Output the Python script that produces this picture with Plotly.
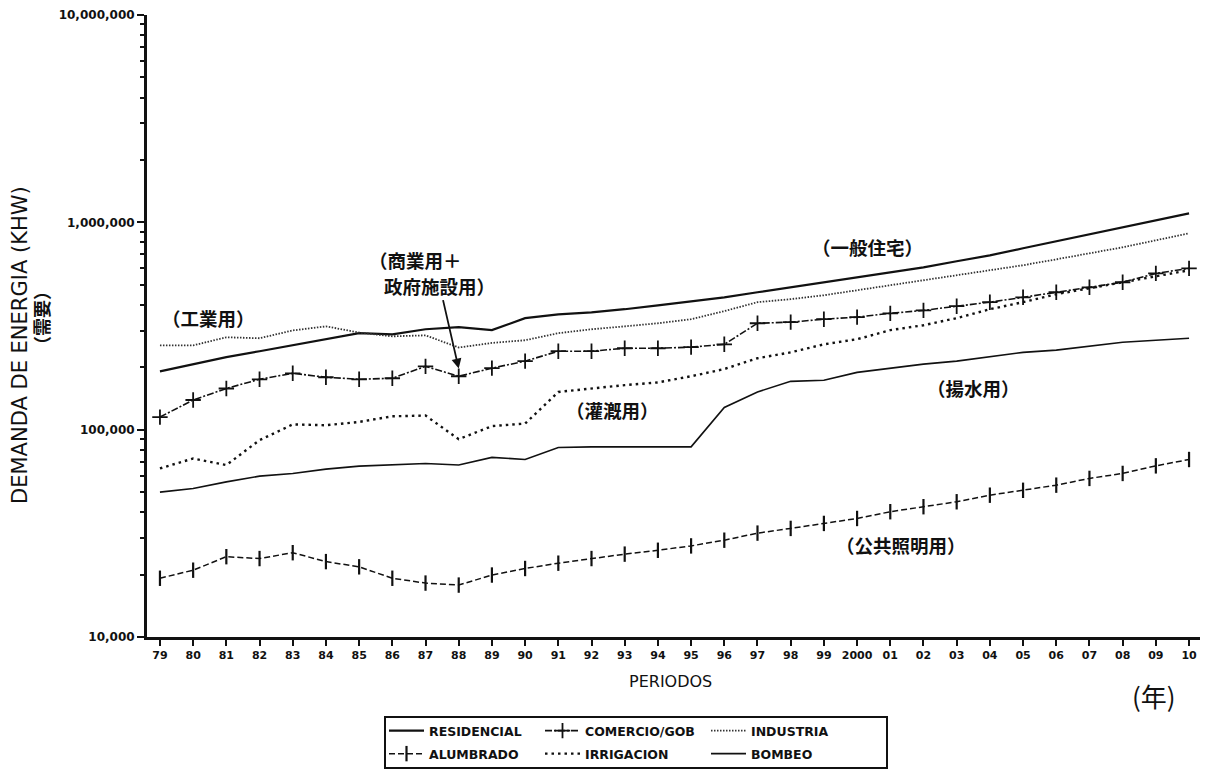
import math
import plotly.graph_objects as go

years = ["79","80","81","82","83","84","85","86","87","88","89","90","91","92","93","94",
         "95","96","97","98","99","2000","01","02","03","04","05","06","07","08","09","10"]

residencial = [191000,207000,224000,239000,255000,273000,292000,288000,305000,312000,302000,345000,
               360000,368000,381000,398000,416000,435000,460000,486000,514000,543000,574000,607000,
               649000,693000,750000,810000,875000,946000,1023000,1105000]
comercio = [115000,139000,158000,175000,187000,179000,175000,177000,202000,181000,198000,214000,
            239000,239000,247000,247000,250000,258000,326000,330000,341000,349000,364000,376000,
            394000,412000,435000,460000,486000,514000,567000,600000]
industria = [255000,255000,279000,276000,301000,315000,294000,282000,285000,249000,262000,270000,
             292000,305000,315000,326000,341000,373000,412000,426000,445000,470000,497000,525000,
             556000,587000,621000,663000,709000,758000,819000,885000]
alumbrado = [19200,21000,24400,23900,25500,23100,21800,19200,18200,17800,19900,21400,
             22700,23900,25100,26200,27500,29300,31700,33400,35300,37300,40200,42500,
             44900,48300,51000,54000,58200,61500,66900,71800]
irrigacion = [65000,72600,67500,89000,106000,105000,109000,116000,117000,90000,104000,107000,
              152000,158000,164000,169000,181000,196000,221000,236000,258000,273000,302000,319000,
              345000,381000,412000,450000,481000,514000,550000,587000]
bombeo = [50000,52000,56000,59700,61500,64500,66700,67500,68700,67500,73500,71800,
          82000,82600,82600,82000,82600,128000,152000,171000,173000,189000,198000,207000,
          214000,224000,236000,242000,253000,264000,270000,276000]

y_tickvals = [1e4, 1e5, 1e6, 1e7]
y_ticktext = ["10,000", "100,000", "1,000,000", "10,000,000"]

arrow_year = "88"
arrow_tip_value = 197000

# page is shown inside a body with an 8px default margin: compensate
BODY = 8
PAGE_W, PAGE_H = 1213, 774
PL, PR, PT, PB = 147, 1200, 15, 637          # plot area in page pixels
W, H = PAGE_W - BODY, PAGE_H - BODY
L, T = PL - BODY, PT - BODY
R = W - (PR - BODY)
B = H - (PB - BODY)
PW, PH = PR - PL, PB - PT

def px(x):
    return (x - PL) / PW

def py(y):
    return (PB - y) / PH

xs = list(range(len(years)))
INK = "#111111"

fig = go.Figure()

series = [
    ("RESIDENCIAL", residencial, dict(color=INK, width=2.2, dash="solid"), None, "legend"),
    ("COMERCIO/GOB", comercio, dict(color=INK, width=1.6, dash="7px,2px,2px,2px"),
     dict(symbol="cross-thin", size=11, line=dict(color=INK, width=1.8)), "legend2"),
    ("INDUSTRIA", industria, dict(color="#333333", width=1.8, dash="1.5px,1.5px"), None, "legend3"),
    ("ALUMBRADO", alumbrado, dict(color=INK, width=1.5, dash="6px,3px"),
     dict(symbol="line-ns", size=11, line=dict(color=INK, width=2.2)), "legend4"),
    ("IRRIGACION", irrigacion, dict(color=INK, width=2.4, dash="2.5px,4px"), None, "legend5"),
    ("BOMBEO", bombeo, dict(color=INK, width=1.6, dash="solid"), None, "legend6"),
]

for name, vals, line, marker, leg in series:
    kw = dict(x=xs, y=vals, name=name, line=line, legend=leg)
    if marker:
        kw["mode"] = "lines+markers"
        kw["marker"] = marker
    else:
        kw["mode"] = "lines"
    fig.add_trace(go.Scatter(**kw))

minor_vals = [m * 10 ** e for e in range(4, 7) for m in range(2, 10)]

leg_font = dict(family="DejaVu Sans", size=12.5, color=INK, weight="bold")
legend_pos = {
    "legend": (384, 731), "legend2": (540, 731), "legend3": (706, 731),
    "legend4": (384, 754), "legend5": (540, 754), "legend6": (706, 754),
}
legend_layout = {}
for k, (lx, ly) in legend_pos.items():
    legend_layout[k] = dict(x=px(lx), y=py(ly), xanchor="left", yanchor="middle",
                            bgcolor="rgba(0,0,0,0)", borderwidth=0, font=leg_font,
                            itemwidth=35, orientation="v")

fig.update_layout(
    width=W, height=H,
    margin=dict(l=L, r=R, t=T, b=B, pad=0, autoexpand=False),
    paper_bgcolor="white", plot_bgcolor="white",
    showlegend=True,
    **legend_layout,
    xaxis=dict(
        range=[-0.39, 31.33], tickvals=xs, ticktext=years,
        ticks="outside", ticklen=6, tickwidth=1.5, tickcolor=INK,
        showline=True, linewidth=3, linecolor=INK, showgrid=False, zeroline=False,
        tickfont=dict(family="DejaVu Sans", size=11, color=INK, weight="bold"),
    ),
    yaxis=dict(
        type="log", range=[4, 7], tickvals=y_tickvals, ticktext=y_ticktext,
        ticks="outside", ticklen=7, tickwidth=2, tickcolor=INK,
        showline=True, linewidth=3, linecolor=INK, showgrid=False, zeroline=False,
        tickfont=dict(family="DejaVu Sans", size=12, color=INK, weight="bold"),
        minor=dict(tickvals=minor_vals, ticks="outside", ticklen=4, tickwidth=1.5, tickcolor=INK),
    ),
)

# legend frame
fig.add_shape(type="rect", xref="paper", yref="paper",
              x0=px(385), x1=px(887), y0=py(768), y1=py(717),
              line=dict(color=INK, width=2))

cjk = dict(family="Noto Sans CJK JP", size=18.5, color=INK, weight="bold")
labels = [
    ("（工業用）", 208, 318),
    ("（商業用＋", 415, 260),
    ("（一般住宅）", 867, 247),
    ("（灌漑用）", 612, 410),
    ("（揚水用）", 973, 388),
    ("（公共照明用）", 901, 545),
]
for txt, x, y in labels:
    fig.add_annotation(text=txt, x=px(x), y=py(y), xref="paper", yref="paper",
                       showarrow=False, font=cjk, xanchor="center", yanchor="middle")

# second line of the commercial label, with arrow pointing to COMERCIO/GOB in 88
fig.add_annotation(text="政府施設用）", x=years.index(arrow_year), y=math.log10(arrow_tip_value),
                   xref="x", yref="y", ax=-19, ay=-83,
                   showarrow=True, arrowhead=2, arrowsize=1.1, arrowwidth=1.8, arrowcolor=INK,
                   standoff=0, font=cjk)

fig.add_annotation(text="PERIODOS", x=px(670), y=py(681), xref="paper", yref="paper",
                   xanchor="center", yanchor="middle", showarrow=False,
                   font=dict(family="DejaVu Sans", size=16, color=INK))
fig.add_annotation(text="(年)", x=px(1154), y=py(695), xref="paper", yref="paper",
                   xanchor="center", yanchor="middle", showarrow=False,
                   font=dict(family="Noto Sans CJK JP", size=26, color=INK))
fig.add_annotation(text="DEMANDA DE ENERGIA (KHW)", x=px(20), y=py(345), xref="paper", yref="paper",
                   xanchor="center", yanchor="middle", showarrow=False, textangle=-90,
                   font=dict(family="DejaVu Sans", size=21, color=INK))
fig.add_annotation(text="（需要）", x=px(41), y=py(318), xref="paper", yref="paper",
                   xanchor="center", yanchor="middle", showarrow=False, textangle=-90,
                   font=dict(family="Noto Sans CJK JP", size=18, color=INK, weight="bold"))

fig.write_html("out.html")
